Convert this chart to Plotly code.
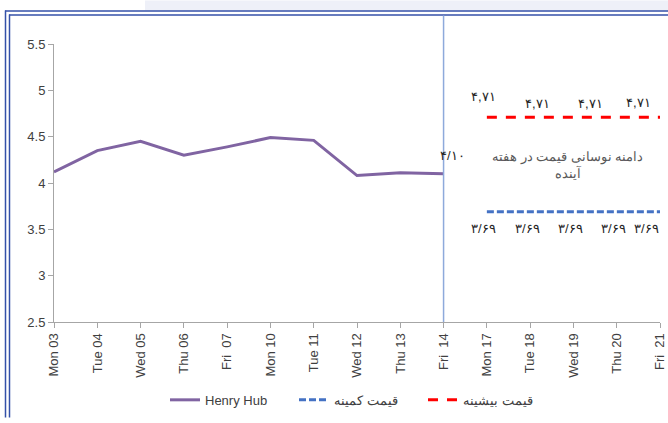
import plotly.graph_objects as go

days = ["Mon 03", "Tue 04", "Wed 05", "Thu 06", "Fri  07", "Mon 10", "Tue 11", "Wed 12",
        "Thu 13", "Fri  14", "Mon 17", "Tue 18", "Wed 19", "Thu 20", "Fri  21"]
henry_hub = [4.12, 4.35, 4.45, 4.30, 4.39, 4.49, 4.46, 4.08, 4.11, 4.10,
             None, None, None, None, None]
min_price = [None] * 10 + [3.69] * 5
max_price = [None] * 10 + [4.71] * 5

last_label = "۴/۱۰"
max_labels = ["۴,۷۱", "۴,۷۱", "۴,۷۱", "۴,۷۱"]
max_label_pos = [(9.92, 4.93), (11.18, 4.86), (12.4, 4.86), (13.5, 4.87)]
min_labels = ["۳/۶۹", "۳/۶۹", "۳/۶۹", "۳/۶۹", "۳/۶۹"]
min_label_pos = [(9.93, 3.51), (10.93, 3.51), (11.94, 3.51), (12.92, 3.51), (13.69, 3.51)]
range_text = "دامنه نوسانی قیمت در هفته<br>آینده"

W, H = 668, 423
L, R, T, B = 54, 8, 44, 97
pw, ph = W - L - R, H - T - B


def px(x):
    return (x - L) / pw


def py(y):
    return (H - B - y) / ph


fig = go.Figure()
fig.add_trace(go.Scatter(x=days, y=henry_hub, mode="lines", name="Henry Hub",
                         line=dict(color="#8064a2", width=3), connectgaps=False))
fig.add_trace(go.Scatter(x=days, y=min_price, mode="lines", name="قیمت کمینه",
                         line=dict(color="#4472c4", width=3, dash="7px,3px")))
fig.add_trace(go.Scatter(x=days, y=max_price, mode="lines", name="قیمت بیشینه",
                         line=dict(color="#ff0000", width=3, dash="10px,9px")))

ann = []
for t, (x, y) in zip(max_labels, max_label_pos):
    ann.append(dict(x=x, y=y, xref="x", yref="y", text=t, showarrow=False,
                    font=dict(size=13, color="#262626")))
for t, (x, y) in zip(min_labels, min_label_pos):
    ann.append(dict(x=x, y=y, xref="x", yref="y", text=t, showarrow=False,
                    font=dict(size=13, color="#262626")))
ann.append(dict(x=9.2, y=4.30, xref="x", yref="y", text=last_label, showarrow=False,
                font=dict(size=13, color="#262626")))
ann.append(dict(x=11.87, y=4.19, xref="x", yref="y", text=range_text, showarrow=False,
                font=dict(size=13, color="#595959"), align="center"))

blue = "#3451a8"
shapes = [
    dict(type="rect", xref="paper", yref="paper", x0=px(145), x1=px(668), y0=py(0), y1=py(10),
         fillcolor="#eef0f8", line=dict(width=0), layer="below"),
    dict(type="line", xref="paper", yref="paper", x0=px(5), x1=px(668), y0=py(10.5), y1=py(10.5),
         line=dict(color=blue, width=1.5)),
    dict(type="line", xref="paper", yref="paper", x0=px(9), x1=px(668), y0=py(14.5), y1=py(14.5),
         line=dict(color=blue, width=1.5)),
    dict(type="line", xref="paper", yref="paper", x0=px(5.5), x1=px(5.5), y0=py(10), y1=py(423),
         line=dict(color=blue, width=1.5)),
    dict(type="line", xref="paper", yref="paper", x0=px(9.5), x1=px(9.5), y0=py(14), y1=py(423),
         line=dict(color=blue, width=1.5)),
    dict(type="line", xref="x", yref="paper", x0=9, x1=9, y0=0, y1=py(15),
         line=dict(color="#8eaadb", width=1.5)),
]

fig.update_layout(
    width=W, height=H,
    margin=dict(l=L, r=R, t=T, b=B),
    paper_bgcolor="white", plot_bgcolor="white",
    font=dict(family="Liberation Sans, Arial, sans-serif", color="#404040"),
    showlegend=True,
    legend=dict(orientation="h", x=px(165), xanchor="left", y=py(405), yanchor="middle",
                entrywidth=84, entrywidthmode="pixels",
                font=dict(size=13, color="#404040"), bgcolor="rgba(0,0,0,0)"),
    annotations=ann,
    shapes=shapes,
)
fig.update_xaxes(type="category", range=[0, 14], showgrid=False, showline=True,
                 linecolor="#a6a6a6", linewidth=1, ticks="outside", ticklen=5,
                 tickcolor="#a6a6a6", tickangle=-90, tickfont=dict(size=13, color="#404040"),
                 zeroline=False, automargin=False)
fig.update_yaxes(range=[2.5, 5.5], dtick=0.5, showgrid=False, showline=True,
                 linecolor="#a6a6a6", linewidth=1, ticks="outside", ticklen=5,
                 tickcolor="#a6a6a6", tickfont=dict(size=13, color="#404040"),
                 tickformat="", zeroline=False, automargin=False)

fig.write_html("out.html", config={"displayModeBar": False},
               post_script="document.body.style.margin='0';document.body.style.overflow='hidden';")
